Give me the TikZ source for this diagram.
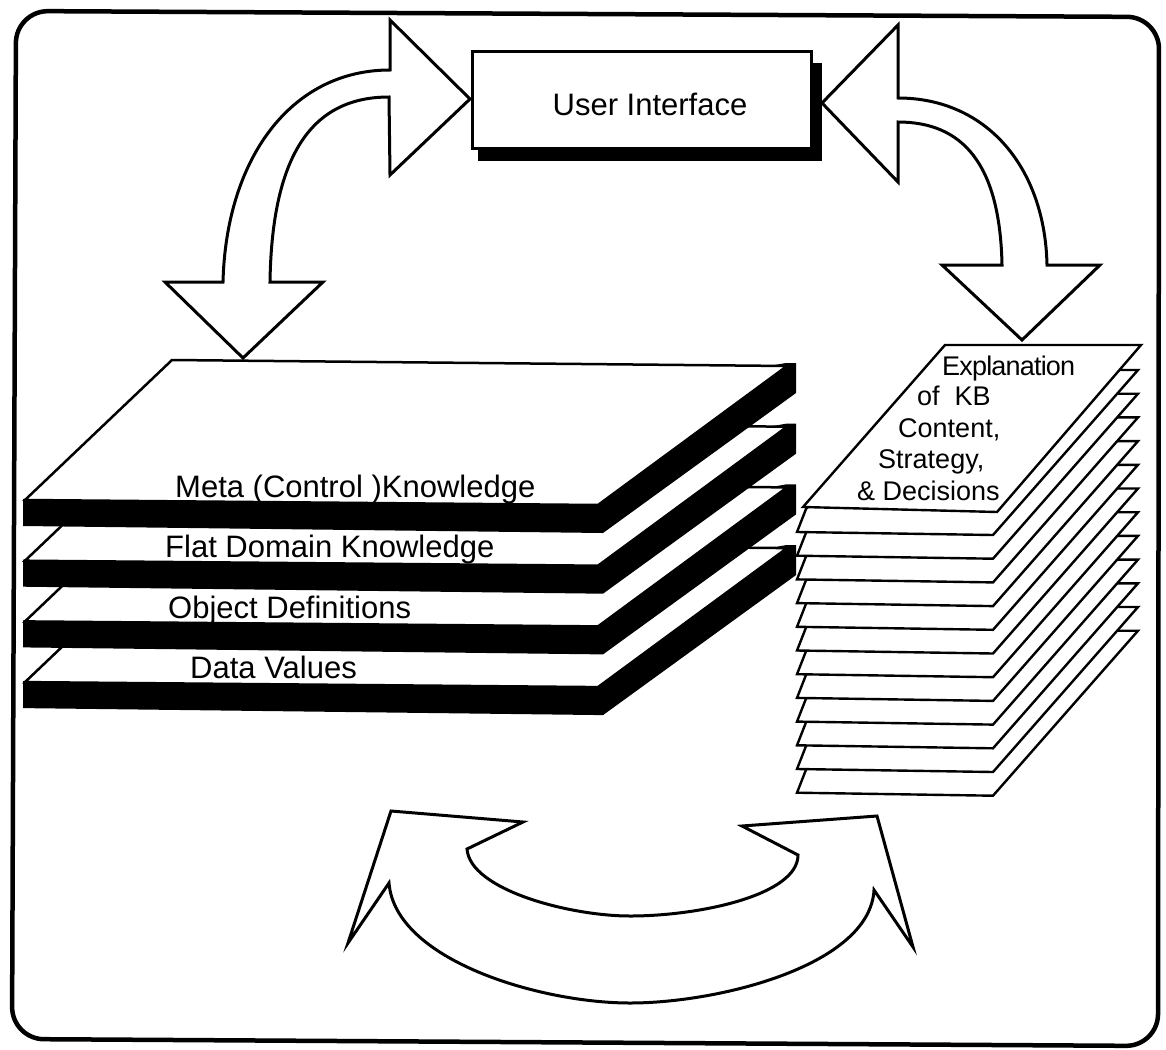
\documentclass[tikz,border=0pt]{standalone}
\usepackage{fontspec}
\setmainfont{Liberation Sans}
\begin{document}
\begin{tikzpicture}[x=1pt,y=-1pt,
  frame/.style={draw=black,line width=4.5pt,rounded corners=32pt},
  blockarrow/.style={draw=black,fill=white,line width=3pt,line join=miter,miter limit=10},
  slabface/.style={draw=black,fill=white,line width=2.5pt,line join=miter},
  sheet/.style={draw=black,fill=white,line width=2.4pt,line join=miter},
  lbl/.style={anchor=base west,inner sep=0pt,font=\fontsize{31}{37}\selectfont},
  expl/.style={anchor=base west,inner sep=0pt,font=\fontsize{27}{31}\selectfont},
  uibox/.style={draw=black,fill=white,line width=3pt,minimum width=339pt,
    minimum height=97pt,inner sep=0pt,outer sep=0pt}]

\useasboundingbox (0,0) rectangle (1166,1049);

% outer frame
\draw[frame] (16,11) -- (1159,17) -- (1158,1046) -- (12,1039) -- cycle;

% user interface box with its drop shadow
\node[uibox] (ui) at (641.5,100) {};
\fill[black] ([shift={(6,11)}]ui.north west) rectangle ([shift={(11,12)}]ui.south east);
\node[uibox] (uifront) at (641.5,100) {};
\node[anchor=base,inner sep=0pt,font=\fontsize{31}{37}\selectfont] (uitext) at (650,115) {User Interface};

% knowledge-base slabs, bottom one first
\foreach \k in {3,2,1,0}{
  \pgfmathsetmacro\d{60.7*\k}
  \fill[black] (23,499+\d) -- (23,526+\d) -- (603,533+\d) -- (796,393+\d)
     -- (796,363+\d) -- (786,363+\d) -- cycle;
  \filldraw[slabface] (172,360+\d) -- (787,366+\d) -- (598,505+\d) -- (25,500+\d) -- cycle;
}
\node[lbl] (meta) at (175,497) {Meta (Control )Knowledge};
\node[lbl] (flat) at (165,557) {Flat Domain Knowledge};
\node[lbl] (obj)  at (168,618) {Object Definitions};
\node[lbl] (data) at (190,678) {Data Values};

% stack of explanation sheets, bottom one first
\foreach \k in {11,10,...,0}{
  \pgfmathsetmacro\b{532+23.7*\k}
  \filldraw[sheet] (797,\b) -- (993,\b+3) -- (1138,\b-162) -- (940,\b-162)
     -- (806,\b-23) -- cycle;
}
\filldraw[sheet] (803,507) -- (997,512) -- (1141,345) -- (945,345) -- cycle;
\node[expl] (ex1) at (942,375) {\addfontfeatures{LetterSpace=-3}Explanation};
\node[expl] (ex2) at (917,405) {of\ \ KB};
\node[expl] (ex3) at (898,437) {Content,};
\node[expl] (ex4) at (878,468) {Strategy,};
\node[expl] (ex5) at (857,500) {\&~Decisions};

% arrow tips
\coordinate (kbtip) at (243,358);
\coordinate (uileft) at (470,99);
\coordinate (uiright) at (822,103);
\coordinate (extip) at (1022,340);

% curved arrow between user interface and knowledge base
\filldraw[blockarrow] (165,282) -- (kbtip) -- (323,282) -- (270,282)
  .. controls (272,150) and (315,97) .. (389,97)
  -- (390,175) -- (uileft) -- (390,20) -- (390,70)
  .. controls (290,70) and (226,160) .. (223,282) -- cycle;

% curved arrow between user interface and explanations
\filldraw[blockarrow] (942,265) -- (extip) -- (1100,265) -- (1047,265)
  .. controls (1045,168) and (987,98) .. (898,98)
  -- (898,25) -- (uiright) -- (898,182) -- (898,122)
  .. controls (962,122) and (1000,163) .. (1002,265) -- cycle;

% double-headed arrow along the bottom
\filldraw[blockarrow] (348,943) -- (391,811) -- (523,822) -- (467,849)
  .. controls (470,890) and (570,916) .. (630,916)
  .. controls (700,916) and (798,895) .. (798,855)
  -- (742,826) -- (877,816) -- (913,947) -- (874,890)
  .. controls (870,965) and (720,1003) .. (630,1003)
  .. controls (540,1003) and (395,960) .. (389,883) -- cycle;

\end{tikzpicture}
\end{document}
